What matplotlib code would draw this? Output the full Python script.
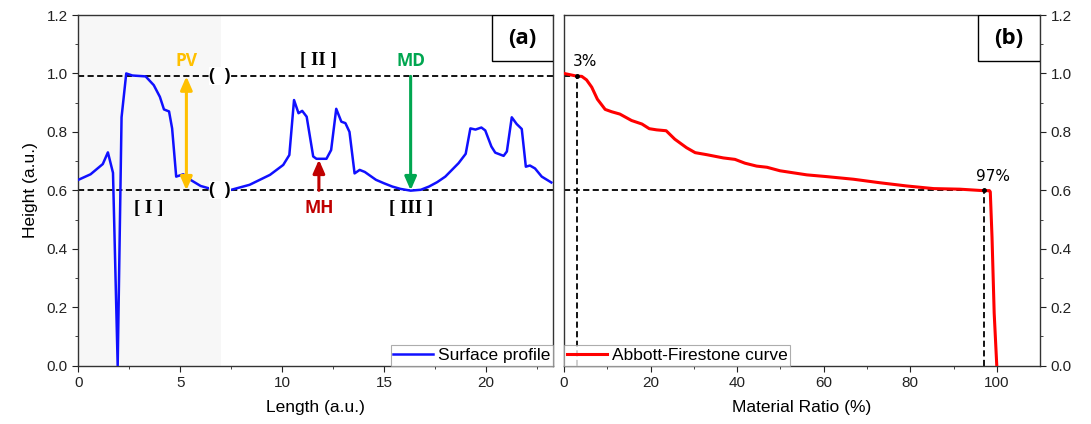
import matplotlib
matplotlib.use("Agg")
import matplotlib.pyplot as plt
from matplotlib.patches import Rectangle
from matplotlib.ticker import MultipleLocator

plt.rcParams['font.family'] = ['Liberation Sans', 'DejaVu Sans']

# ---- data ----
length = [0.0, 0.6, 1.2, 1.45, 1.7, 1.93, 2.12, 2.35, 2.65, 3.3, 3.7, 4.0, 4.2, 4.45, 4.6,
          4.8, 5.15, 5.5, 6.0, 6.5, 7.0, 7.4, 8.4, 9.4, 10.05, 10.35, 10.58, 10.8, 10.98, 11.2,
          11.52, 11.68, 12.17, 12.4, 12.65, 12.9, 13.1, 13.3, 13.55, 13.8, 14.05, 14.6, 15.0,
          15.4, 15.8, 16.3, 16.8, 17.2, 17.6, 18.0, 18.65, 19.0, 19.23, 19.48, 19.77, 19.96,
          20.26, 20.45, 20.86, 21.02, 21.26, 21.5, 21.75, 21.95, 22.15, 22.4, 22.73, 23.2]
height = [0.636, 0.655, 0.69, 0.73, 0.66, 0.0, 0.85, 1.0, 0.993, 0.99, 0.96, 0.92, 0.877, 0.87, 0.812,
          0.647, 0.655, 0.636, 0.615, 0.605, 0.6, 0.6, 0.619, 0.653, 0.687, 0.721, 0.909, 0.864, 0.872, 0.852,
          0.716, 0.708, 0.708, 0.738, 0.879, 0.835, 0.83, 0.80, 0.658, 0.67, 0.663, 0.636, 0.624,
          0.613, 0.605, 0.599, 0.602, 0.613, 0.628, 0.647, 0.693, 0.725, 0.812, 0.808, 0.815, 0.805,
          0.75, 0.729, 0.718, 0.733, 0.85, 0.827, 0.81, 0.681, 0.685, 0.675, 0.647, 0.627]

material_ratio = [0, 2.9, 4.1, 5.2, 6.4, 7.7, 9.5, 11.0, 12.9, 15.6, 18.0, 19.7, 21.4, 23.6, 25.6,
                  28.3, 30.3, 33.0, 36.8, 39.5, 41.8, 44.5, 46.9, 49.9, 56.1, 60.7, 66.9, 73.0,
                  79.2, 85.4, 91.5, 96.9, 98.3, 98.5, 98.9, 99.4, 99.7, 100.0]
af_height = [1.0, 0.991, 0.99, 0.978, 0.953, 0.912, 0.877, 0.869, 0.861, 0.839, 0.827, 0.811, 0.807,
             0.804, 0.775, 0.746, 0.729, 0.722, 0.711, 0.706, 0.693, 0.683, 0.679, 0.667, 0.653,
             0.647, 0.638, 0.626, 0.615, 0.606, 0.604, 0.599, 0.599, 0.595, 0.44, 0.18, 0.09, 0.0]

top_level = 0.99
bottom_level = 0.6
mr_low = 3
mr_high = 97
pv_x = 5.3
mh_x = 11.8
mh_top = 0.705
md_x = 16.3

fig = plt.figure(figsize=(10.91, 4.24), dpi=100)
ax1 = fig.add_axes([0.0718, 0.1375, 0.4354, 0.8271])
ax2 = fig.add_axes([0.517, 0.1375, 0.4363, 0.8271])

dash = (0, (3.4, 1.9))
# ---- panel (a) ----
ax1.axvspan(0, 7, color='#f7f7f7', zorder=0, lw=0)
ax1.plot([0, 23.3], [top_level, top_level], color='black', ls=dash, lw=1.3, zorder=2)
ax1.plot([0, 23.3], [bottom_level, bottom_level], color='black', ls=dash, lw=1.3, zorder=2)
ax1.plot(length, height, color='#1010ff', lw=1.8, label='Surface profile', zorder=3)

ax1.annotate('', xy=(pv_x, bottom_level), xytext=(pv_x, top_level),
             arrowprops=dict(arrowstyle='<|-|>,head_width=0.35,head_length=0.8', color='#ffc000', lw=2.2,
                             shrinkA=0, shrinkB=0), zorder=4)
ax1.text(pv_x, 1.043, 'PV', color='#ffc000', fontsize=12.5, fontweight='bold', ha='center', va='center',
         family='Open Sans')
ax1.annotate('', xy=(md_x, bottom_level), xytext=(md_x, top_level),
             arrowprops=dict(arrowstyle='-|>,head_width=0.35,head_length=0.8', color='#00a650', lw=2.2,
                             shrinkA=0, shrinkB=0), zorder=4)
ax1.text(md_x, 1.043, 'MD', color='#00a650', fontsize=12.5, fontweight='bold', ha='center', va='center',
         family='Open Sans')
ax1.annotate('', xy=(mh_x, mh_top), xytext=(mh_x, bottom_level),
             arrowprops=dict(arrowstyle='-|>,head_width=0.35,head_length=0.8', color='#c00000', lw=2.2,
                             shrinkA=0, shrinkB=0), zorder=4)
ax1.text(mh_x, 0.538, 'MH', color='#c00000', fontsize=12.5, fontweight='bold', ha='center', va='center',
         family='Open Sans')

ax1.text(11.75, 1.043, '[ II ]', fontsize=13.5, fontweight='bold', ha='center', va='center', family='Liberation Serif')
ax1.text(3.45, 0.538, '[ I ]', fontsize=13.5, fontweight='bold', ha='center', va='center', family='Liberation Serif')
ax1.text(md_x, 0.538, '[ III ]', fontsize=13.5, fontweight='bold', ha='center', va='center', family='Liberation Serif')
for yy in (top_level, bottom_level):
    ax1.text(6.94, yy, '(  )', fontsize=13, fontweight='bold', ha='center', va='center', family='Open Sans',
             zorder=5, bbox=dict(boxstyle='square,pad=0', facecolor='white', edgecolor='none'))

ax1.add_patch(Rectangle((0.870, 0.869), 0.13, 0.131, transform=ax1.transAxes, fill=True, facecolor='white',
                        edgecolor='black', lw=1.0, zorder=6))
ax1.text(0.935, 0.934, '(a)', transform=ax1.transAxes, fontsize=16, fontweight='bold', ha='center', va='center',
         family='Open Sans', zorder=7)

ax1.set_xlim(0, 23.3)
ax1.set_ylim(0, 1.2)
ax1.xaxis.set_major_locator(MultipleLocator(5))
ax1.xaxis.set_minor_locator(MultipleLocator(2.5))
ax1.yaxis.set_major_locator(MultipleLocator(0.2))
ax1.yaxis.set_minor_locator(MultipleLocator(0.1))
ax1.yaxis.set_major_formatter(matplotlib.ticker.FormatStrFormatter('%.1f'))
ax1.tick_params(which='both', direction='out', top=False, right=False, labelsize=11, colors='#222222')
ax1.tick_params(which='major', length=4)
ax1.tick_params(which='minor', length=2.5)
ax1.set_xlabel('Length (a.u.)', fontsize=12.5, labelpad=7)
ax1.set_ylabel('Height (a.u.)', fontsize=12.5, labelpad=6)
leg1 = ax1.legend(loc='lower right', fontsize=12.5, frameon=True, fancybox=False, borderaxespad=0,
                  borderpad=0.15, handlelength=2.3, handletextpad=0.3)
leg1.get_frame().set_edgecolor('#999999')
leg1.get_frame().set_linewidth(0.8)

# ---- panel (b) ----
ax2.plot([0, mr_low], [top_level, top_level], color='black', ls=dash, lw=1.3, zorder=2)
ax2.plot([mr_low, mr_low], [0, top_level], color='black', ls=dash, lw=1.3, zorder=2)
ax2.plot([0, mr_high], [bottom_level, bottom_level], color='black', ls=dash, lw=1.3, zorder=2)
ax2.plot([mr_high, mr_high], [0, bottom_level], color='black', ls=dash, lw=1.3, zorder=2)
ax2.plot(material_ratio, af_height, color='#ff0000', lw=2.2, label='Abbott-Firestone curve', zorder=3)
ax2.plot([mr_low, mr_high], [top_level, bottom_level], 'o', color='black', ms=2.5, zorder=4)
ax2.text(4.9, 1.04, '3%', fontsize=11, ha='center', va='center', family='DejaVu Sans')
ax2.text(99.2, 0.647, '97%', fontsize=11, ha='center', va='center', family='DejaVu Sans')

ax2.add_patch(Rectangle((0.870, 0.869), 0.13, 0.131, transform=ax2.transAxes, fill=True, facecolor='white',
                        edgecolor='black', lw=1.0, zorder=6))
ax2.text(0.935, 0.934, '(b)', transform=ax2.transAxes, fontsize=16, fontweight='bold', ha='center', va='center',
         family='Open Sans', zorder=7)

ax2.set_xlim(0, 110)
ax2.set_ylim(0, 1.2)
ax2.xaxis.set_major_locator(matplotlib.ticker.FixedLocator([0, 20, 40, 60, 80, 100]))
ax2.xaxis.set_minor_locator(matplotlib.ticker.FixedLocator([10, 30, 50, 70, 90]))
ax2.yaxis.set_major_locator(MultipleLocator(0.2))
ax2.yaxis.set_minor_locator(MultipleLocator(0.1))
ax2.yaxis.set_major_formatter(matplotlib.ticker.FormatStrFormatter('%.1f'))
ax2.yaxis.tick_right()
ax2.tick_params(which='both', direction='out', top=False, left=False, labelsize=11, colors='#222222')
ax2.tick_params(which='major', length=4)
ax2.tick_params(which='minor', length=2.5)
ax2.set_xlabel('Material Ratio (%)', fontsize=12.5, labelpad=7)
leg2 = ax2.legend(loc='lower left', fontsize=12.5, frameon=True, fancybox=False, borderaxespad=0,
                  borderpad=0.15, handlelength=2.3, handletextpad=0.3)
leg2.get_frame().set_edgecolor('#999999')
leg2.get_frame().set_linewidth(0.8)

for ax in (ax1, ax2):
    for s in ax.spines.values():
        s.set_color('#333333')
        s.set_linewidth(1.0)

fig.savefig('out.png', dpi=100)
